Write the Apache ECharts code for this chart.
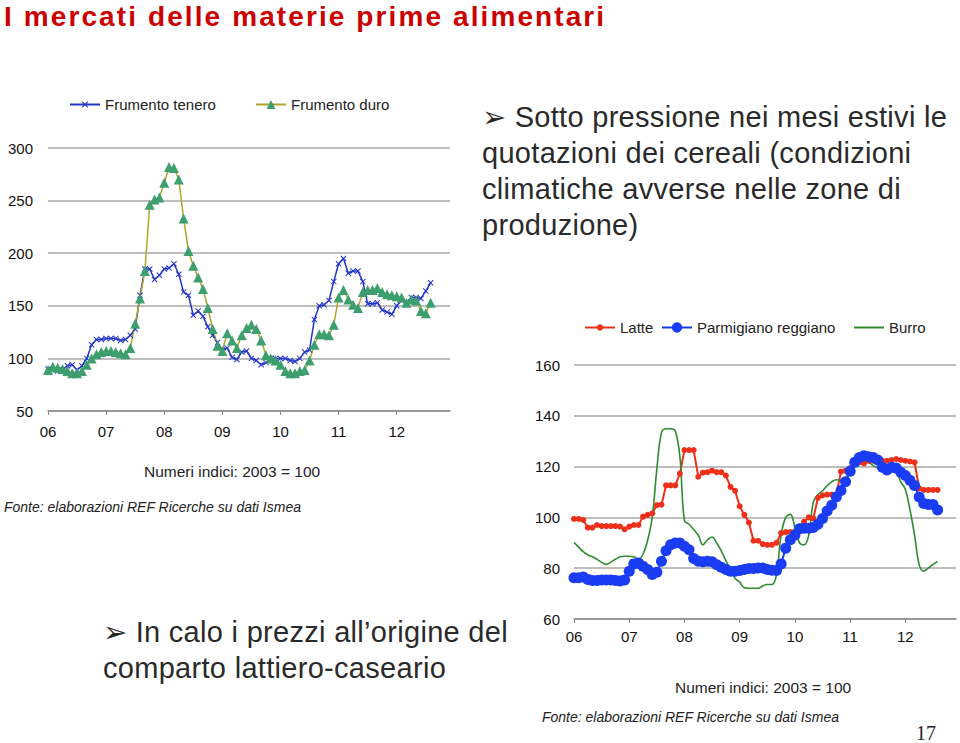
<!DOCTYPE html>
<html>
<head>
<meta charset="utf-8">
<script src="https://cdn.jsdelivr.net/npm/echarts@6/dist/echarts.min.js"></script>
<style>
  html, body { margin:0; padding:0; background:#fff; }
  #wrap { position:relative; width:960px; height:743px; overflow:hidden; font-family:"Liberation Sans", Arial, sans-serif; }
  #chart { position:absolute; left:0; top:0; width:960px; height:743px; }
  .t { position:absolute; white-space:nowrap; }
  #title { left:4px; top:1px; font-size:28px; line-height:32px; font-weight:bold; color:#cc0000; letter-spacing:2.1px; }
  .bul { font-size:29px; color:#2a2a2a; line-height:36px; letter-spacing:0.3px; }
  .note { font-size:15.5px; color:#222; }
  .src { font-size:14px; font-style:italic; color:#222; }
  #page { left:916px; top:722px; font-family:"Liberation Serif", serif; font-size:20px; color:#222; }
</style>
</head>
<body>
<div id="wrap">
  <div id="chart"></div>
  <div class="t" id="title">I mercati delle materie prime alimentari</div>
  <div class="t bul" style="left:482px; top:99px;">➢ Sotto pressione nei mesi estivi le<br>quotazioni dei cereali (condizioni<br>climatiche avverse nelle zone di<br>produzione)</div>
  <div class="t bul" style="left:103px; top:614px;">➢ In calo i prezzi all’origine del<br>comparto lattiero-caseario</div>
  <div class="t note" style="left:144px; top:463px;">Numeri indici: 2003 = 100</div>
  <div class="t src" style="left:4px; top:499px;">Fonte: elaborazioni REF Ricerche su dati Ismea</div>
  <div class="t note" style="left:675px; top:679px;">Numeri indici: 2003 = 100</div>
  <div class="t src" style="left:542px; top:709px;">Fonte: elaborazioni REF Ricerche su dati Ismea</div>
  <div class="t" id="page">17</div>
</div>
<script>
// ---- data ----
const yearLabels = ['06','07','08','09','10','11','12'];
const frumentoTenero = [
  90,89,88,89,93,94,89,93,100,113,118,118,
  119,119,119,117,118,122,128,160,185,185,175,179,
  185,186,190,180,163,160,141,145,140,130,122,115,
  108,110,101,99,106,107,100,98,94,96,100,100,
  100,100,98,97,100,106,108,137,150,151,155,173,
  190,195,181,183,183,173,152,152,153,146,144,142,
  150,155,153,158,158,157,164,172];
const frumentoDuro = [
  89,92,91,90,88,86,86,88,94,100,104,106,
  107,107,106,105,104,110,133,157,183,246,251,253,
  267,282,281,270,233,202,188,177,166,148,128,112,
  107,124,117,110,122,129,132,128,117,103,100,98,
  94,88,86,86,88,89,98,113,123,123,122,132,
  158,165,156,151,148,163,165,165,167,163,161,160,
  159,158,153,156,155,145,143,153];
const latte = [
  99.4,99.4,99,96,96,97,96.6,96.6,96.6,96.6,96.4,95.3,
  96.4,97,97,100.3,101,101.6,104.8,105,112.6,112.6,112.6,117.2,
  126.5,126.5,126.5,116,117.6,117.8,118.4,117.8,117.8,116.5,112,110.5,
  104.4,101,98,90.8,90.8,89.5,89.2,89.2,90,93.8,94.2,94.2,
  94.4,96.4,98.3,100,99.6,107.7,108.7,109,109,108.7,118,118.4,
  119.4,121.7,121.7,121.3,122.3,122.3,122.3,122.3,122.3,122.6,123,122.6,
  122.3,122,121.7,111.4,110.8,110.8,110.8,110.8];
const parmigiano = [
  76.2,76.2,76.5,75.6,75.2,75.2,75.4,75.4,75.4,75.2,75,75.4,
  78.8,81.7,82,80.8,79.5,77.5,78.4,82.7,86.9,89.2,89.9,89.9,
  88.6,87.3,83.8,82.7,82.5,82.7,82.5,81.4,80.4,79.5,78.8,78.8,
  79.1,79.5,79.9,79.9,80.1,80.1,79.5,79.2,79.1,81.7,87.9,91.2,
  93.1,95.5,95.7,95.7,96,97.3,99.6,102.5,104.8,108,110.6,114,
  118.2,121.7,123.6,124.3,123.9,123.6,122.6,119.7,118.7,119.7,119.4,117.8,
  116.5,114.6,112.6,108,105.5,105.1,105.1,102.9];
const burro = [
  90.1,88.3,86.5,85.2,84.5,83.5,82.3,81.5,82.4,83.5,84.5,84.7,
  84.7,84.5,83.5,85.5,91,100,119,133.3,134.9,134.9,134,124,
  98.6,97.3,95.2,93,89.2,91.2,92.3,89.9,86.8,83,79.5,76,
  74.5,72.3,72.1,72.1,72.1,73,73.6,73.6,77.5,93,100,101.2,
  96,90,89.2,93,106,109,110.5,112.5,114,114.8,114.6,115.5,
  117,119.9,125.2,122.5,121.7,120.4,119.5,118.6,118.4,118.5,118,114,
  111,103,93,81.4,78.8,80.1,81.5,82.7];

// months Jan 2006 .. Dec 2012
const months = [];
yearLabels.forEach(y => { for (let m = 1; m <= 12; m++) months.push(y + '-' + (m < 10 ? '0' + m : m)); });

const xPath = 'path://M0,1.2L1.2,0L5,3.8L8.8,0L10,1.2L6.2,5L10,8.8L8.8,10L5,6.2L1.2,10L0,8.8L3.8,5Z';
const isYear = (i) => i % 12 === 0;

function xAxis(gridIndex, margin) {
  return {
    type: 'category', gridIndex, data: months, boundaryGap: false,
    axisLine: { lineStyle: { color: '#8c8c8c', width: 1.5 } },
    axisTick: { interval: isYear, length: 4, lineStyle: { color: '#8c8c8c' } },
    axisLabel: { interval: isYear, margin, fontSize: 15, color: '#111', fontFamily: 'Liberation Sans',
                 formatter: v => v.slice(0, 2) },
    splitLine: { show: false }
  };
}
function yAxis(gridIndex, min, max, interval, margin) {
  return {
    type: 'value', gridIndex, min, max, interval,
    axisLine: { show: false }, axisTick: { show: false },
    axisLabel: { margin, fontSize: 15, color: '#111', fontFamily: 'Liberation Sans' },
    splitLine: { lineStyle: { color: '#a8a8a8', width: 1.5 } }
  };
}
const legText = { fontSize: 15, color: '#222', fontFamily: 'Liberation Sans' };
function leg(name, left, top, h, icon) {
  const item = icon ? { name, icon } : name;
  return { data: [item], left, top, itemWidth: 30, itemHeight: h, itemGap: 0, textStyle: legText, padding: 0, selectedMode: false };
}

const chart = echarts.init(document.getElementById('chart'), null, { renderer: 'svg' });
chart.setOption({
  animation: false,
  grid: [
    { left: 48, right: 510, top: 148, bottom: 332 },
    { left: 574, right: 4, top: 365, bottom: 124 }
  ],
  legend: [
    leg('Frumento tenero', 69, 97, 8),
    leg('Frumento duro', 255, 97, 11),
    leg('Latte', 584, 320, 8),
    leg('Parmigiano reggiano', 661, 320, 13),
    leg('Burro', 854, 320, 2, 'rect')
  ],
  xAxis: [xAxis(0, 13), xAxis(1, 10)],
  yAxis: [yAxis(0, 50, 300, 50, 15), yAxis(1, 60, 160, 20, 14)],
  series: [
    { name: 'Frumento tenero', type: 'line', xAxisIndex: 0, yAxisIndex: 0, data: frumentoTenero,
      symbol: xPath, symbolSize: 6, showAllSymbol: true,
      lineStyle: { color: '#2236c8', width: 1.5 }, itemStyle: { color: '#2236c8' } },
    { name: 'Frumento duro', type: 'line', xAxisIndex: 0, yAxisIndex: 0, data: frumentoDuro,
      symbol: 'triangle', symbolSize: 10, showAllSymbol: true,
      lineStyle: { color: '#b0a52c', width: 1.5 }, itemStyle: { color: '#3d9e6e' } },
    { name: 'Latte', type: 'line', xAxisIndex: 1, yAxisIndex: 1, data: latte,
      symbol: 'circle', symbolSize: 6, showAllSymbol: true,
      lineStyle: { color: '#ee2f1a', width: 2 }, itemStyle: { color: '#ee2f1a' } },
    { name: 'Parmigiano reggiano', type: 'line', xAxisIndex: 1, yAxisIndex: 1, data: parmigiano,
      symbol: 'circle', symbolSize: 11, showAllSymbol: true,
      lineStyle: { color: '#1a3ae6', width: 2 }, itemStyle: { color: '#1a3cf2' } },
    { name: 'Burro', type: 'line', xAxisIndex: 1, yAxisIndex: 1, data: burro,
      symbol: 'none', smooth: 0.4,
      lineStyle: { color: '#2e8b2e', width: 1.6 }, itemStyle: { color: '#2e8b2e' } }
  ]
});
</script>
</body>
</html>
